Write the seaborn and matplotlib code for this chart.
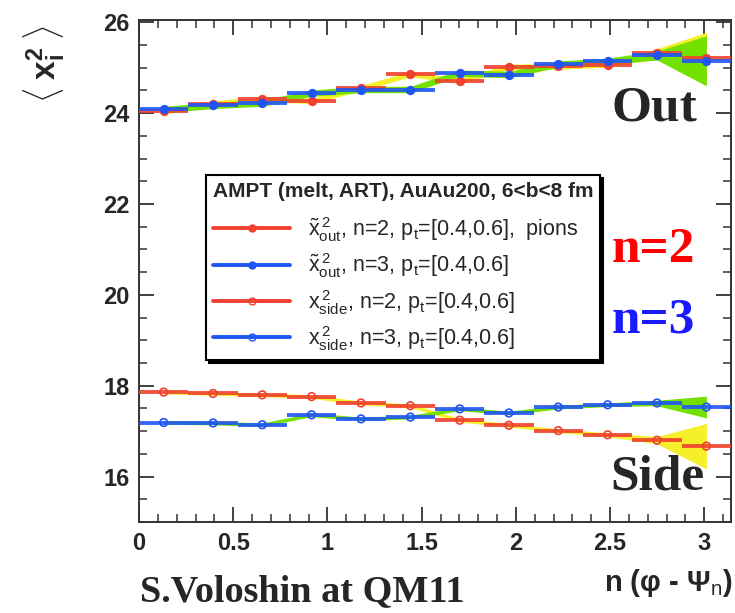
import numpy as np
import pandas as pd
import matplotlib
matplotlib.use("Agg")
import matplotlib.pyplot as plt
import seaborn as sns
from matplotlib.lines import Line2D
from matplotlib.ticker import MultipleLocator, FuncFormatter

# ---------------- data ----------------
phi_bins = [0.131, 0.393, 0.654, 0.916, 1.178, 1.440, 1.702, 1.963, 2.225, 2.487, 2.749, 3.011]
bin_halfwidth = [0.131] * 12

out_n2 = [24.04, 24.21, 24.31, 24.27, 24.55, 24.86, 24.71, 25.02, 25.03, 25.07, 25.32, 25.21]
out_n3 = [24.08, 24.17, 24.22, 24.44, 24.52, 24.52, 24.88, 24.85, 25.08, 25.14, 25.27, 25.15]
side_n2 = [17.86, 17.83, 17.80, 17.76, 17.62, 17.56, 17.24, 17.13, 17.01, 16.92, 16.80, 16.67]
side_n3 = [17.19, 17.18, 17.14, 17.36, 17.27, 17.31, 17.49, 17.40, 17.53, 17.58, 17.62, 17.53]

out_n2_err = [0.06, 0.06, 0.06, 0.06, 0.06, 0.06, 0.06, 0.06, 0.06, 0.06, 0.10, 0.57]
out_n3_err = [0.07, 0.07, 0.07, 0.07, 0.07, 0.07, 0.07, 0.07, 0.07, 0.07, 0.10, 0.55]
side_n2_err = [0.04, 0.04, 0.04, 0.04, 0.04, 0.04, 0.04, 0.04, 0.04, 0.04, 0.08, 0.50]
side_n3_err = [0.04, 0.04, 0.04, 0.04, 0.04, 0.04, 0.04, 0.04, 0.04, 0.04, 0.06, 0.24]

legend_title = "AMPT (melt, ART), AuAu200, 6<b<8 fm"
legend_labels = [
    r"$\tilde{\mathrm{x}}^{\,2}_{\mathrm{out}}$, n=2, p$_{\mathrm{t}}$=[0.4,0.6],  pions",
    r"$\tilde{\mathrm{x}}^{\,2}_{\mathrm{out}}$, n=3, p$_{\mathrm{t}}$=[0.4,0.6]",
    r"$\mathrm{x}^{\,2}_{\mathrm{side}}$, n=2, p$_{\mathrm{t}}$=[0.4,0.6]",
    r"$\mathrm{x}^{\,2}_{\mathrm{side}}$, n=3, p$_{\mathrm{t}}$=[0.4,0.6]",
]
x_ticks = [0, 0.5, 1, 1.5, 2, 2.5, 3]
y_ticks = [16, 18, 20, 22, 24, 26]

RED = "#f0402e"
BLUE = "#1f55f5"
YELLOW = "#f6f02a"
GREEN = "#74e000"

# ---------------- style ----------------
sns.set_theme(style="ticks")
plt.rcParams["font.family"] = ["Liberation Sans", "DejaVu Sans"]
plt.rcParams["mathtext.fontset"] = "custom"
plt.rcParams["mathtext.rm"] = "Liberation Sans"
plt.rcParams["mathtext.it"] = "Liberation Sans:italic"
plt.rcParams["mathtext.bf"] = "Liberation Sans:bold"

W, H = 735, 613
fig = plt.figure(figsize=(W / 100, H / 100), dpi=100)
fig.patch.set_facecolor("white")
L, R, T, B = 139, 731, 20, 522
ax = fig.add_axes([L / W, 1 - B / H, (R - L) / W, (B - T) / H])
ax.set_facecolor("white")

phi = np.array(phi_bins)
hw = np.array(bin_halfwidth)

# bands
for vals, errs, col, z in [(out_n2, out_n2_err, YELLOW, 1), (out_n3, out_n3_err, GREEN, 1.2),
                           (side_n2, side_n2_err, YELLOW, 1), (side_n3, side_n3_err, GREEN, 1.2)]:
    v = np.array(vals); e = np.array(errs)
    ax.fill_between(phi, v - e, v + e, color=col, lw=0, zorder=z)

# horizontal bin segments
for vals, col, z in [(out_n2, RED, 3), (out_n3, BLUE, 3.1), (side_n2, RED, 3), (side_n3, BLUE, 3.1)]:
    ax.errorbar(phi, vals, xerr=hw, fmt="none", ecolor=col, elinewidth=2.8, capsize=0, zorder=z, alpha=0.9)

# markers
df = pd.DataFrame({"phi": phi_bins, "out_n2": out_n2, "out_n3": out_n3,
                   "side_n2": side_n2, "side_n3": side_n3})
sns.scatterplot(data=df, x="phi", y="out_n2", ax=ax, color=RED, s=45, edgecolor=RED, linewidth=0, zorder=4, legend=False)
sns.scatterplot(data=df, x="phi", y="out_n3", ax=ax, color=BLUE, s=45, edgecolor=BLUE, linewidth=0, zorder=4.1, legend=False)
sns.scatterplot(data=df, x="phi", y="side_n2", ax=ax, s=30, facecolor="none", edgecolor=RED, linewidth=1.2, zorder=4, legend=False)
sns.scatterplot(data=df, x="phi", y="side_n3", ax=ax, s=30, facecolor="none", edgecolor=BLUE, linewidth=1.2, zorder=4.1, legend=False)

ax.set_xlim(0, np.pi)
ax.set_ylim(15.0, 26.05)
ax.set_xlabel("")
ax.set_ylabel("")
ax.set_xticks(x_ticks)
ax.set_yticks(y_ticks)
ax.xaxis.set_minor_locator(MultipleLocator(0.1))
ax.yaxis.set_minor_locator(MultipleLocator(0.5))
ax.xaxis.set_major_formatter(FuncFormatter(lambda v, p: "%g" % v))
ax.tick_params(which="both", direction="in", top=True, right=True, color="#333333")
ax.tick_params(which="major", length=11, width=1.3, labelsize=17, pad=7)
ax.tick_params(which="minor", length=5.5, width=1.1)
for lab in ax.get_xticklabels() + ax.get_yticklabels():
    lab.set_fontweight("bold")
for s in ax.spines.values():
    s.set_linewidth(1.4)
    s.set_color("#333333")

# legend
handles = [
    Line2D([0], [0], color=RED, lw=2.8, marker="o", ms=5, mfc=RED, mec=RED),
    Line2D([0], [0], color=BLUE, lw=2.8, marker="o", ms=5, mfc=BLUE, mec=BLUE),
    Line2D([0], [0], color=RED, lw=2.8, marker="o", ms=5, mfc="none", mec=RED),
    Line2D([0], [0], color=BLUE, lw=2.8, marker="o", ms=5, mfc="none", mec=BLUE),
]
leg = ax.legend(handles, legend_labels, title=legend_title, loc="upper left",
                bbox_to_anchor=(206 / W, 1 - 175 / H), bbox_transform=fig.transFigure,
                borderaxespad=0,
                fontsize=15.5, title_fontproperties={"weight": "bold", "size": 15},
                frameon=True, fancybox=False, edgecolor="black", framealpha=1,
                shadow={"color": "black", "alpha": 1}, handlelength=3.6, handletextpad=0.8,
                labelspacing=0.35, borderpad=0.32, alignment="left")
leg._legend_box.sep = 10
leg.get_frame().set_linewidth(1.5)
leg.set_zorder(10)

# annotations
serif = ["Liberation Serif", "DejaVu Serif"]
fig.text(612 / W, 1 - 120 / H, "Out", family=serif, weight="bold", size=37, ha="left", va="baseline")
fig.text(612 / W, 1 - 262 / H, "n=2", family=serif, weight="bold", size=37, color="#ff0000", ha="left", va="baseline")
fig.text(612 / W, 1 - 332 / H, "n=3", family=serif, weight="bold", size=37, color="#1a1aff", ha="left", va="baseline")
fig.text(610 / W, 1 - 490 / H, "Side", family=serif, weight="bold", size=37, ha="left", va="baseline")
fig.text(140 / W, 1 - 601 / H, "S.Voloshin at QM11", family=serif, weight="bold", size=27.5, ha="left", va="baseline")

fig.text(44 / W, 1 - 64 / H, r"$\langle\;\mathbf{x}_{\mathbf{i}}^{\mathbf{2}}\;\rangle$", size=24,
         rotation=90, ha="center", va="center")
fig.text(733 / W, 1 - 583 / H, "n (φ - Ψ$_{\\mathrm{n}}$)", size=21, weight="bold",
         ha="right", va="center")

fig.savefig("out.png", dpi=100, facecolor="white")
